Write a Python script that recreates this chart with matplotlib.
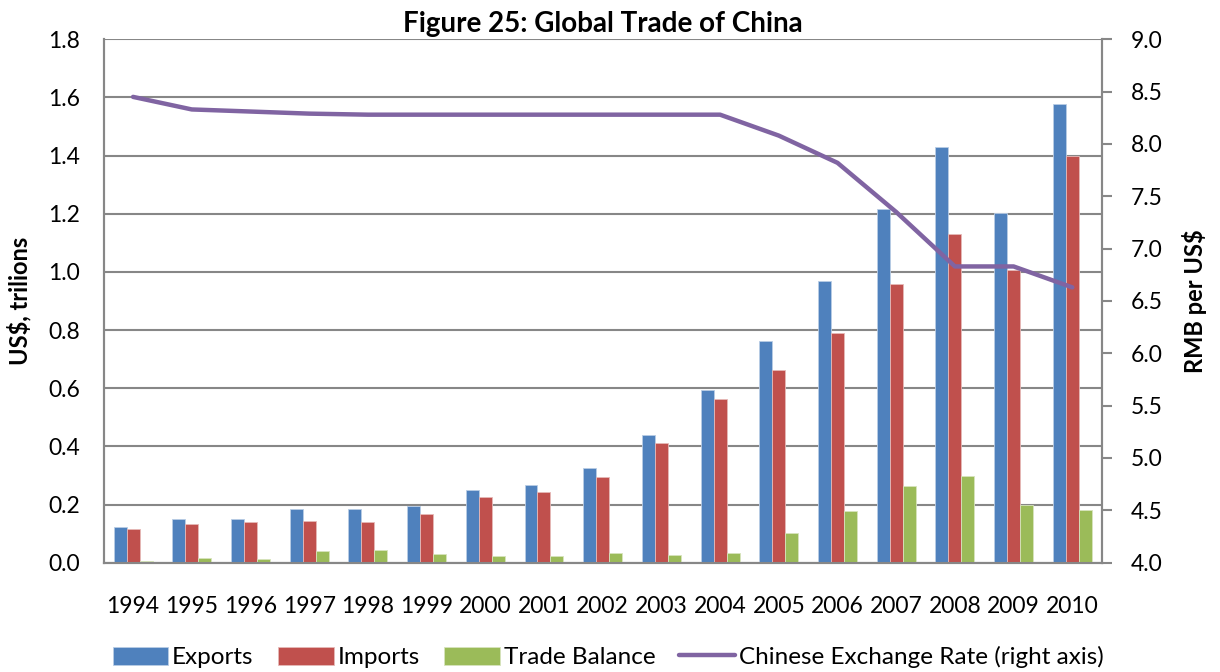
import matplotlib
matplotlib.use("Agg")
import matplotlib.pyplot as plt
import numpy as np

years = [str(y) for y in range(1994, 2011)]
exports = [0.121, 0.149, 0.151, 0.183, 0.184, 0.195, 0.250, 0.267, 0.327, 0.439,
           0.594, 0.761, 0.970, 1.218, 1.430, 1.203, 1.579]
imports = [0.117, 0.133, 0.139, 0.143, 0.141, 0.168, 0.226, 0.244, 0.296, 0.413,
           0.563, 0.662, 0.791, 0.957, 1.132, 1.005, 1.397]
balance = [0.007, 0.017, 0.013, 0.041, 0.045, 0.030, 0.024, 0.022, 0.032, 0.026,
           0.033, 0.102, 0.178, 0.263, 0.298, 0.200, 0.182]
rate = [8.45, 8.33, 8.31, 8.29, 8.28, 8.28, 8.28, 8.28, 8.28, 8.28,
        8.28, 8.08, 7.82, 7.35, 6.83, 6.83, 6.63]

plt.rcParams['font.family'] = ['Lato', 'DejaVu Sans']

fig = plt.figure(figsize=(12.2, 6.72), dpi=100)
ax = fig.add_axes([0.085, 0.1627, 0.818, 0.7788])
ax2 = ax.twinx()

x = np.arange(len(years))
w = 0.221
grid_c = '#878787'
ax.bar(x - w, exports, w, color='#4F81BD', edgecolor='#B9CDE5', linewidth=0.6, label='Exports', zorder=3)
ax.bar(x, imports, w, color='#C0504D', edgecolor='#E6B9B8', linewidth=0.6, label='Imports', zorder=3)
ax.bar(x + w, balance, w, color='#9BBB59', edgecolor='#D7E4BD', linewidth=0.6, label='Trade Balance', zorder=3)
ln, = ax2.plot(x, rate, color='#8064A2', linewidth=3.2, solid_capstyle='round',
               label='Chinese Exchange Rate (right axis)', zorder=4)

ax.set_xlim(-0.5, len(years) - 0.5)
ax.set_ylim(0, 1.8)
ax.set_yticks(np.arange(0, 1.81, 0.2))
ax.set_yticklabels([f'{v:.1f}' for v in np.arange(0, 1.81, 0.2)])
ax2.set_ylim(4.0, 9.0)
ax2.set_yticks(np.arange(4.0, 9.01, 0.5))
ax2.set_yticklabels([f'{v:.1f}' for v in np.arange(4.0, 9.01, 0.5)])

ax.yaxis.grid(True, color=grid_c, linewidth=1.5, zorder=0)
ax.set_axisbelow(True)
ax.set_xticks(x)
ax.set_xticklabels(years)

for a in (ax, ax2):
    for s in a.spines.values():
        s.set_color(grid_c)
        s.set_linewidth(1.5)
ax.spines['top'].set_visible(False)
ax2.spines['top'].set_visible(False)

ax.tick_params(axis='x', length=0, pad=24, labelsize=16.5)
ax.tick_params(axis='y', length=0, pad=17, labelsize=16.5)
ax2.tick_params(axis='y', length=7, width=1.5, color=grid_c, direction='out', pad=14, labelsize=16.5)

ax.set_ylabel('US$, trilions', fontsize=17, fontweight='bold', labelpad=12)
ax2.set_ylabel('RMB per US$', fontsize=17, fontweight='bold', labelpad=14)
ax.set_title('Figure 25: Global Trade of China', fontsize=20, fontweight='bold', pad=5)

handles, labels = ax.get_legend_handles_labels()
handles.append(ln)
labels.append(ln.get_label())
fig.legend(handles, labels, loc='center', bbox_to_anchor=(0.4985, 0.022), ncol=4,
           frameon=False, fontsize=17.5, handlelength=2.3, handleheight=0.8,
           columnspacing=1.0, handletextpad=0.15)

fig.savefig('out.png', dpi=100)
